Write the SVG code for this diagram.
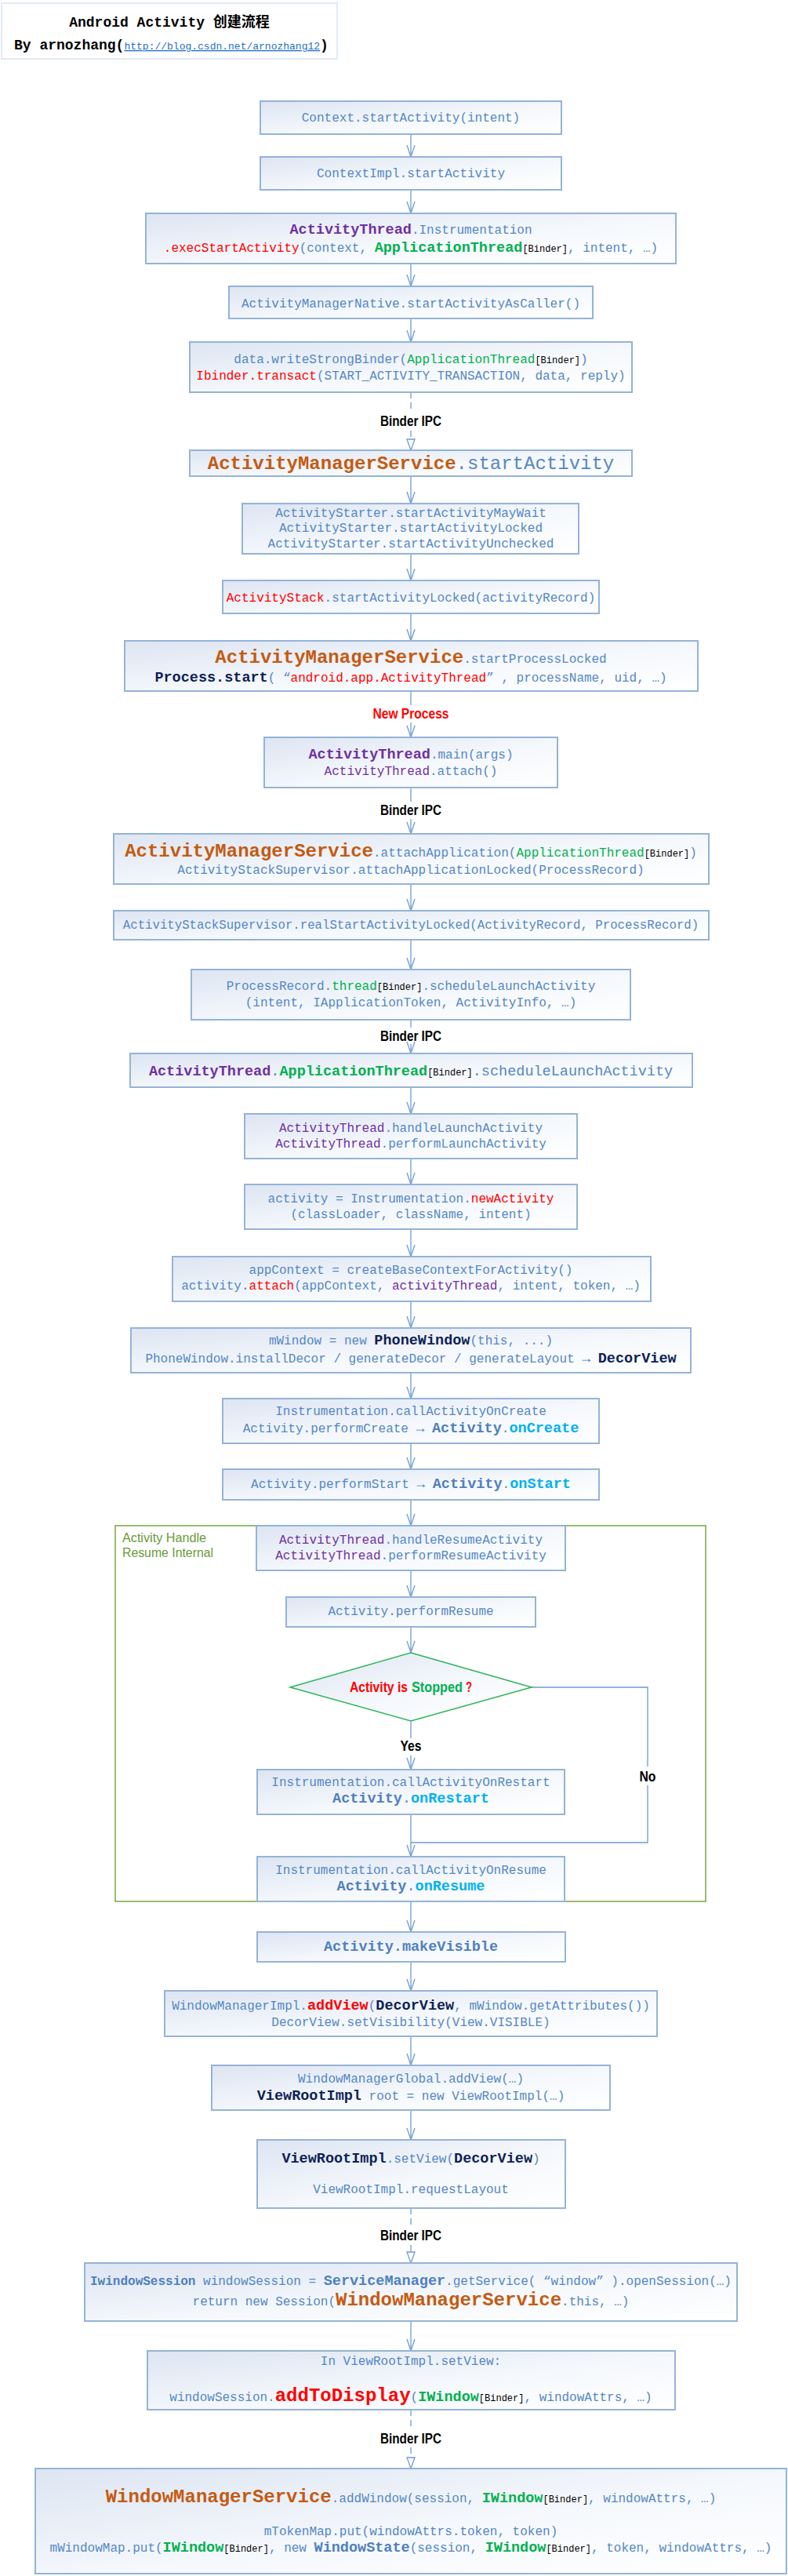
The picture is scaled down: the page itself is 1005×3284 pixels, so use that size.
<svg xmlns="http://www.w3.org/2000/svg" width="1005" height="3284" viewBox="0 0 1005 3284">
<style>
text{font-family:"Liberation Mono","Courier New",monospace;font-size:16px;fill:#5587c4;text-anchor:middle}
.box{fill:url(#bg);stroke:#95b3d7;stroke-width:2}
.ln{fill:none;stroke:#6f9bd3;stroke-width:1.3}
.dl{fill:none;stroke:#6f9bd3;stroke-width:1.3;stroke-dasharray:8 5}
.lbl{font-family:"Liberation Sans Narrow","Liberation Sans",Arial,sans-serif;font-weight:bold;font-size:18px;fill:#000}
.bd{font-weight:bold}
.p{fill:#7030a0}.g{fill:#00b050}.r{fill:#ff0000}.o{fill:#c55a11}.n{fill:#0f1f55}.c{fill:#00b0f0}.k{fill:#000}.bb{fill:#4f7fbf;font-weight:bold}
.ar{fill:#4f7fbf;font-weight:bold;font-size:18px}
.s12{font-size:12px}.s18{font-size:18.5px}.s24{font-size:24px}
</style>
<defs>
<linearGradient id="bg" x1="0" y1="0" x2="1" y2="1">
<stop offset="0" stop-color="#dde5f2"/><stop offset="0.55" stop-color="#f5f8fc"/><stop offset="1" stop-color="#ffffff"/>
</linearGradient>
<marker id="v" markerUnits="userSpaceOnUse" markerWidth="18" markerHeight="14" viewBox="-16 -7 18 14" refX="0" refY="0" orient="auto" overflow="visible">
<path d="M-15,-5 L0,0 L-15,5" fill="none" stroke="#6f9bd3" stroke-width="1.3"/>
</marker>
<marker id="t" markerUnits="userSpaceOnUse" markerWidth="18" markerHeight="14" viewBox="-16 -7 18 14" refX="0" refY="0" orient="auto" overflow="visible">
<path d="M-14,-5 L0,0 L-14,5 Z" fill="#fff" stroke="#6f9bd3" stroke-width="1.3"/>
</marker>
</defs>
<rect width="1005" height="3284" fill="#fff"/>

<g id="title">
<rect x="2" y="4" width="428" height="71" fill="#fff" stroke="#e3eaf4" stroke-width="2"/>
<text x="216" y="34" style="font-family:'Liberation Mono','Noto Sans CJK SC',monospace;font-weight:bold;font-size:18px;fill:#000">Android Activity 创建流程</text>
<text x="18" y="63" style="text-anchor:start;font-weight:bold;font-size:18px;fill:#000">By arnozhang(<tspan style="font-weight:normal;font-size:13px;fill:#1f6fc5;text-decoration:underline">http://blog.csdn.net/arnozhang12</tspan>)</text>
</g>

<g id="group-resume">
<rect x="147" y="1945" width="753" height="479" fill="none" stroke="#77a644" stroke-width="1.5"/>
<text x="156" y="1966" textLength="107" lengthAdjust="spacingAndGlyphs" style="font-family:'Liberation Sans',Arial,sans-serif;font-size:16px;fill:#6a9a3a;text-anchor:start">Activity Handle</text>
<text x="156" y="1985" textLength="116" lengthAdjust="spacingAndGlyphs" style="font-family:'Liberation Sans',Arial,sans-serif;font-size:16px;fill:#6a9a3a;text-anchor:start">Resume Internal</text>
</g>

<g id="connectors">
<line class="ln" x1="524" y1="171" x2="524" y2="200" marker-end="url(#v)"/>
<line class="ln" x1="524" y1="242" x2="524" y2="272" marker-end="url(#v)"/>
<line class="ln" x1="524" y1="336" x2="524" y2="365" marker-end="url(#v)"/>
<line class="ln" x1="524" y1="406" x2="524" y2="436" marker-end="url(#v)"/>
<line class="dl" x1="524" y1="500" x2="524" y2="526"/>
<line class="dl" x1="524" y1="549" x2="524" y2="574" marker-end="url(#t)"/>
<line class="ln" x1="524" y1="607" x2="524" y2="642" marker-end="url(#v)"/>
<line class="ln" x1="524" y1="706" x2="524" y2="740" marker-end="url(#v)"/>
<line class="ln" x1="524" y1="782" x2="524" y2="817" marker-end="url(#v)"/>
<line class="ln" x1="524" y1="881" x2="524" y2="899"/>
<line class="ln" x1="524" y1="921" x2="524" y2="940" marker-end="url(#v)"/>
<line class="ln" x1="524" y1="1004" x2="524" y2="1022"/>
<line class="ln" x1="524" y1="1044" x2="524" y2="1063" marker-end="url(#v)"/>
<line class="ln" x1="524" y1="1127" x2="524" y2="1161" marker-end="url(#v)"/>
<line class="ln" x1="524" y1="1198" x2="524" y2="1236" marker-end="url(#v)"/>
<line class="ln" x1="524" y1="1300" x2="524" y2="1310"/>
<line class="ln" x1="524" y1="1331" x2="524" y2="1343" marker-end="url(#v)"/>
<line class="ln" x1="524" y1="1386" x2="524" y2="1420" marker-end="url(#v)"/>
<line class="ln" x1="524" y1="1477" x2="524" y2="1510" marker-end="url(#v)"/>
<line class="ln" x1="524" y1="1567" x2="524" y2="1602" marker-end="url(#v)"/>
<line class="ln" x1="524" y1="1659" x2="524" y2="1693" marker-end="url(#v)"/>
<line class="ln" x1="524" y1="1750" x2="524" y2="1783" marker-end="url(#v)"/>
<line class="ln" x1="524" y1="1840" x2="524" y2="1873" marker-end="url(#v)"/>
<line class="ln" x1="524" y1="1912" x2="524" y2="1945" marker-end="url(#v)"/>
<line class="ln" x1="524" y1="2002" x2="524" y2="2036" marker-end="url(#v)"/>
<line class="ln" x1="524" y1="2074" x2="524" y2="2107" marker-end="url(#v)"/>
<line class="ln" x1="524" y1="2194" x2="524" y2="2216"/>
<line class="ln" x1="524" y1="2238" x2="524" y2="2256" marker-end="url(#v)"/>
<polyline class="ln" points="678,2151 826,2151 826,2252"/>
<polyline class="ln" points="826,2276 826,2349 524,2349"/>
<line class="ln" x1="524" y1="2313" x2="524" y2="2367" marker-end="url(#v)"/>
<line class="ln" x1="524" y1="2424" x2="524" y2="2463" marker-end="url(#v)"/>
<line class="ln" x1="524" y1="2501" x2="524" y2="2538" marker-end="url(#v)"/>
<line class="ln" x1="524" y1="2596" x2="524" y2="2633" marker-end="url(#v)"/>
<line class="ln" x1="524" y1="2690" x2="524" y2="2728" marker-end="url(#v)"/>
<line class="dl" x1="524" y1="2815" x2="524" y2="2838"/>
<line class="dl" x1="524" y1="2862" x2="524" y2="2885" marker-end="url(#t)"/>
<line class="ln" x1="524" y1="2959" x2="524" y2="2997" marker-end="url(#v)"/>
<line class="dl" x1="524" y1="3072" x2="524" y2="3097"/>
<line class="dl" x1="524" y1="3120" x2="524" y2="3147" marker-end="url(#t)"/>
<text class="lbl" x="524" y="543" textLength="78" lengthAdjust="spacingAndGlyphs">Binder IPC</text>
<text class="lbl" x="524" y="916" textLength="97" lengthAdjust="spacingAndGlyphs" style="fill:#ff0000">New Process</text>
<text class="lbl" x="524" y="1039" textLength="78" lengthAdjust="spacingAndGlyphs">Binder IPC</text>
<text class="lbl" x="524" y="1327" textLength="78" lengthAdjust="spacingAndGlyphs">Binder IPC</text>
<text class="lbl" x="524" y="2232" textLength="27" lengthAdjust="spacingAndGlyphs">Yes</text>
<text class="lbl" x="826" y="2271" textLength="21" lengthAdjust="spacingAndGlyphs">No</text>
<text class="lbl" x="524" y="2856" textLength="78" lengthAdjust="spacingAndGlyphs">Binder IPC</text>
<text class="lbl" x="524" y="3115" textLength="78" lengthAdjust="spacingAndGlyphs">Binder IPC</text>
</g>

<g id="n1"><rect class="box" x="332" y="129" width="384" height="42"/>
<text x="524" y="155">Context.startActivity(intent)</text></g>

<g id="n2"><rect class="box" x="332" y="200" width="384" height="42"/>
<text x="524" y="226">ContextImpl.startActivity</text></g>

<g id="n3"><rect class="box" x="186" y="272" width="676" height="64"/>
<text x="524" y="298"><tspan class="p bd s18">ActivityThread</tspan>.Instrumentation</text>
<text x="524" y="321"><tspan class="r">.execStartActivity</tspan>(context, <tspan class="g bd s18">ApplicationThread</tspan><tspan class="k s12">[Binder]</tspan>, intent, …)</text></g>

<g id="n4"><rect class="box" x="292" y="365" width="464" height="41"/>
<text x="524" y="392">ActivityManagerNative.startActivityAsCaller()</text></g>

<g id="n5"><rect class="box" x="242" y="436" width="564" height="64"/>
<text x="524" y="463">data.writeStrongBinder(<tspan class="g">ApplicationThread</tspan><tspan class="k s12">[Binder]</tspan>)</text>
<text x="524" y="484"><tspan class="r">Ibinder.transact</tspan>(START_ACTIVITY_TRANSACTION, data, reply)</text></g>

<g id="n6"><rect class="box" x="242" y="574" width="564" height="33"/>
<text x="524" y="598" class="s24"><tspan class="o bd">ActivityManagerService</tspan>.startActivity</text></g>

<g id="n7"><rect class="box" x="309" y="642" width="429" height="64"/>
<text x="524" y="659">ActivityStarter.startActivityMayWait</text>
<text x="524" y="678">ActivityStarter.startActivityLocked</text>
<text x="524" y="698">ActivityStarter.startActivityUnchecked</text></g>

<g id="n8"><rect class="box" x="284" y="740" width="480" height="42"/>
<text x="524" y="767"><tspan class="r">ActivityStack</tspan>.startActivityLocked(activityRecord)</text></g>

<g id="n9"><rect class="box" x="159" y="817" width="731" height="64"/>
<text x="524" y="845"><tspan class="o bd s24">ActivityManagerService</tspan>.startProcessLocked</text>
<text x="524" y="869"><tspan class="n bd s18">Process.start</tspan>( “<tspan class="r">android.app.ActivityThread</tspan>” , processName, uid, …)</text></g>

<g id="n10"><rect class="box" x="337" y="940" width="374" height="64"/>
<text x="524" y="967"><tspan class="p bd s18">ActivityThread</tspan>.main(args)</text>
<text x="524" y="988"><tspan class="p">ActivityThread</tspan>.attach()</text></g>

<g id="n11"><rect class="box" x="145" y="1063" width="759" height="64"/>
<text x="524" y="1092"><tspan class="o bd s24">ActivityManagerService</tspan>.attachApplication(<tspan class="g">ApplicationThread</tspan><tspan class="k s12">[Binder]</tspan>)</text>
<text x="524" y="1114">ActivityStackSupervisor.attachApplicationLocked(ProcessRecord)</text></g>

<g id="n12"><rect class="box" x="145" y="1161" width="759" height="37"/>
<text x="524" y="1184" style="font-size:15.7px">ActivityStackSupervisor.realStartActivityLocked(ActivityRecord, ProcessRecord)</text></g>

<g id="n13"><rect class="box" x="244" y="1236" width="560" height="64"/>
<text x="524" y="1262">ProcessRecord.<tspan class="g">thread</tspan><tspan class="k s12">[Binder]</tspan>.scheduleLaunchActivity</text>
<text x="524" y="1283">(intent, IApplicationToken, ActivityInfo, …)</text></g>

<g id="n14"><rect class="box" x="166" y="1343" width="717" height="43"/>
<text x="524" y="1371" class="s18"><tspan class="p bd">ActivityThread</tspan>.<tspan class="g bd">ApplicationThread</tspan><tspan class="k s12">[Binder]</tspan>.scheduleLaunchActivity</text></g>

<g id="n15"><rect class="box" x="312" y="1420" width="424" height="57"/>
<text x="524" y="1443"><tspan class="p">ActivityThread</tspan>.handleLaunchActivity</text>
<text x="524" y="1463"><tspan class="p">ActivityThread</tspan>.performLaunchActivity</text></g>

<g id="n16"><rect class="box" x="312" y="1510" width="424" height="57"/>
<text x="524" y="1533">activity = Instrumentation.<tspan class="r">newActivity</tspan></text>
<text x="524" y="1553">(classLoader, className, intent)</text></g>

<g id="n17"><rect class="box" x="220" y="1602" width="610" height="57"/>
<text x="524" y="1624">appContext = createBaseContextForActivity()</text>
<text x="524" y="1644">activity.<tspan class="r">attach</tspan>(appContext, <tspan class="p">activityThread</tspan>, intent, token, …)</text></g>

<g id="n18"><rect class="box" x="167" y="1693" width="714" height="57"/>
<text x="524" y="1714">mWindow = new <tspan class="n bd s18">PhoneWindow</tspan>(this, ...)</text>
<text x="524" y="1737">PhoneWindow.installDecor / generateDecor / generateLayout <tspan class="ar">→</tspan> <tspan class="n bd s18">DecorView</tspan></text></g>

<g id="n19"><rect class="box" x="284" y="1783" width="480" height="57"/>
<text x="524" y="1804">Instrumentation.callActivityOnCreate</text>
<text x="524" y="1826">Activity.performCreate <tspan class="ar">→</tspan> <tspan class="bb s18">Activity</tspan>.<tspan class="c bd s18">onCreate</tspan></text></g>

<g id="n20"><rect class="box" x="284" y="1873" width="480" height="39"/>
<text x="524" y="1897">Activity.performStart <tspan class="ar">→</tspan>  <tspan class="bb s18">Activity</tspan>.<tspan class="c bd s18">onStart</tspan></text></g>

<g id="n21"><rect class="box" x="327" y="1945" width="394" height="57"/>
<text x="524" y="1968"><tspan class="p">ActivityThread</tspan>.handleResumeActivity</text>
<text x="524" y="1988"><tspan class="p">ActivityThread</tspan>.performResumeActivity</text></g>

<g id="n22"><rect class="box" x="365" y="2036" width="318" height="38"/>
<text x="524" y="2059">Activity.performResume</text></g>

<g id="n-decision"><polygon points="524,2107 678,2151 524,2194 370,2151" fill="url(#bg)" stroke="#2fb35a" stroke-width="1.5"/>
<text class="lbl" x="446" y="2157" textLength="74" lengthAdjust="spacingAndGlyphs" style="fill:#ff0000;text-anchor:start">Activity is</text>
<text class="lbl" x="525" y="2157" textLength="65" lengthAdjust="spacingAndGlyphs" style="fill:#00b050;text-anchor:start">Stopped</text>
<text class="lbl" x="594" y="2157" textLength="8" lengthAdjust="spacingAndGlyphs" style="fill:#ff0000;text-anchor:start">?</text></g>

<g id="n23"><rect class="box" x="328" y="2256" width="392" height="57"/>
<text x="524" y="2277">Instrumentation.callActivityOnRestart</text>
<text x="524" y="2298" class="s18"><tspan class="bb">Activity</tspan>.<tspan class="c bd">onRestart</tspan></text></g>

<g id="n24"><rect class="box" x="328" y="2367" width="392" height="57"/>
<text x="524" y="2389">Instrumentation.callActivityOnResume</text>
<text x="524" y="2410" class="s18"><tspan class="bb">Activity</tspan>.<tspan class="c bd">onResume</tspan></text></g>

<g id="n25"><rect class="box" x="328" y="2463" width="393" height="38"/>
<text x="524" y="2487" class="bb s18">Activity.makeVisible</text></g>

<g id="n26"><rect class="box" x="210" y="2538" width="628" height="58"/>
<text x="524" y="2562">WindowManagerImpl.<tspan class="r bd s18">addView</tspan>(<tspan class="n bd s18">DecorView</tspan>, mWindow.getAttributes())</text>
<text x="524" y="2583">DecorView.setVisibility(View.VISIBLE)</text></g>

<g id="n27"><rect class="box" x="270" y="2633" width="508" height="57"/>
<text x="524" y="2655">WindowManagerGlobal.addView(…)</text>
<text x="524" y="2677"><tspan class="n bd s18">ViewRootImpl</tspan>  root = new ViewRootImpl(…)</text></g>

<g id="n28"><rect class="box" x="328" y="2728" width="393" height="87"/>
<text x="524" y="2757"><tspan class="n bd s18">ViewRootImpl</tspan>.setView(<tspan class="n bd s18">DecorView</tspan>)</text>
<text x="524" y="2796">ViewRootImpl.requestLayout</text></g>

<g id="n29"><rect class="box" x="108" y="2885" width="832" height="74"/>
<text x="524" y="2913"><tspan class="bb">IwindowSession</tspan> windowSession = <tspan class="bb s18">ServiceManager</tspan>.getService( “window” ).openSession(…)</text>
<text x="524" y="2939">return new Session(<tspan class="o bd s24">WindowManagerService</tspan>.this, …)</text></g>

<g id="n30"><rect class="box" x="188" y="2997" width="673" height="75"/>
<text x="524" y="3015">In ViewRootImpl.setView:</text>
<text x="524" y="3061">windowSession.<tspan class="r bd s24">addToDisplay</tspan>(<tspan class="g bd s18">IWindow</tspan><tspan class="k s12">[Binder]</tspan>, windowAttrs, …)</text></g>

<g id="n31"><rect class="box" x="45" y="3147" width="958" height="134"/>
<text x="524" y="3190"><tspan class="o bd s24">WindowManagerService</tspan>.addWindow(session, <tspan class="g bd s18">IWindow</tspan><tspan class="k s12">[Binder]</tspan>, windowAttrs, …)</text>
<text x="524" y="3232">mTokenMap.put(windowAttrs.token, token)</text>
<text x="524" y="3253">mWindowMap.put(<tspan class="g bd s18">IWindow</tspan><tspan class="k s12">[Binder]</tspan>, new <tspan class="bb s18">WindowState</tspan>(session, <tspan class="g bd s18">IWindow</tspan><tspan class="k s12">[Binder]</tspan>, token, windowAttrs, …)</text></g>
</svg>
